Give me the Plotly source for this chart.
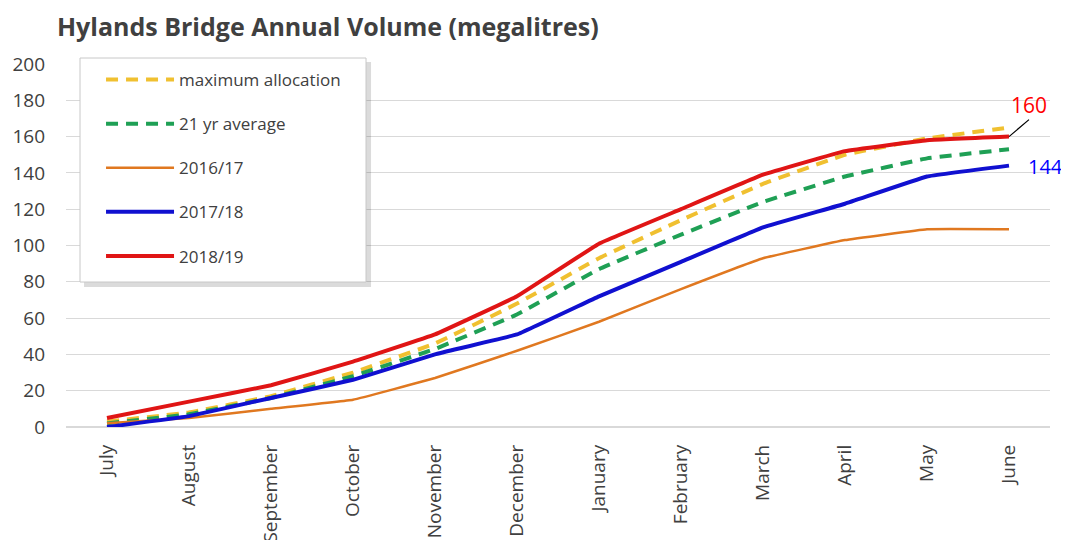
import plotly.graph_objects as go

months = ["July", "August", "September", "October", "November", "December",
          "January", "February", "March", "April", "May", "June"]
max_allocation = [3, 8, 17, 30, 46, 68, 93, 114, 134, 150, 159, 165]
avg_21yr = [2, 7, 16, 28, 43, 62, 87, 106, 124, 138, 148, 153]
y2016_17 = [2, 5, 10, 15, 27, 42, 58, 76, 93, 103, 109, 109]
y2017_18 = [0, 6, 16, 26, 40, 51, 72, 91, 110, 123, 138, 144]
y2018_19 = [5, 14, 23, 36, 51, 72, 101, 120, 139, 152, 158, 160]

series = [
    ("maximum allocation", max_allocation, "#f0c030", 4, "dash"),
    ("21 yr average", avg_21yr, "#1fa055", 4, "dash"),
    ("2016/17", y2016_17, "#e07820", 2.5, "solid"),
    ("2017/18", y2017_18, "#1010d0", 4, "solid"),
    ("2018/19", y2018_19, "#e01515", 4, "solid"),
]

fig = go.Figure()
for i, (name, vals, color, width, dash) in enumerate(series):
    fig.add_trace(go.Scatter(
        x=months, y=vals, name=name, mode="lines",
        line=dict(color=color, width=width, dash="12px,8px" if dash == "dash" else "solid",
                  shape="spline", smoothing=0.2),
        legendgroup=f"g{i}",
    ))

fig.add_annotation(x=months[-1], y=y2018_19[-1], text=str(y2018_19[-1]),
                   showarrow=True, arrowhead=0, arrowwidth=1.2, arrowcolor="black",
                   ax=20, ay=-17, xanchor="center", yanchor="bottom", borderpad=0,
                   font=dict(color="#ff0000", size=21, family="Open Sans"))
fig.add_annotation(x=months[-1], y=y2017_18[-1], text=str(y2017_18[-1]),
                   showarrow=False, xshift=36, yshift=-1,
                   font=dict(color="#0000ff", size=20, family="Open Sans"))

# legend shadow and box (drawn as shapes)
fig.add_shape(type="rect", xref="paper", yref="paper",
              x0=0.0183, x1=0.310, y0=0.3857, y1=1.0055,
              fillcolor="rgba(0,0,0,0.14)", line=dict(width=0), layer="above")
fig.add_shape(type="rect", xref="paper", yref="paper",
              x0=0.01423, x1=0.3049, y0=0.3994, y1=1.0165,
              fillcolor="white", line=dict(width=1, color="#c8c8c8"), layer="above")

fig.update_layout(
    width=1053, height=532,
    paper_bgcolor="white", plot_bgcolor="white",
    margin=dict(l=58, r=11, t=56, b=113),
    title=dict(text="<b>Hylands Bridge Annual Volume (megalitres)</b>",
               x=0.0465, xanchor="left", y=0.964, yanchor="middle",
               font=dict(family="Open Sans", size=25, color="#404040")),
    font=dict(family="Open Sans", color="#404040"),
    showlegend=True,
    legend=dict(x=0.0356, y=1.0055, xanchor="left", yanchor="top",
                bgcolor="rgba(0,0,0,0)", borderwidth=0,
                font=dict(size=17, color="#404040"),
                tracegroupgap=19, itemwidth=68,
                traceorder="grouped"),
    xaxis=dict(type="category", range=[-0.5, 11.5], tickangle=-90, showgrid=False,
               showline=False, ticks="", tickfont=dict(size=19, color="#404040"),
               ticklabelstandoff=13, automargin=False),
    yaxis=dict(range=[0, 200], dtick=20, showgrid=True, gridcolor="#d9d9d9",
               gridwidth=1, zeroline=True, zerolinecolor="#d9d9d9", showline=False,
               tickfont=dict(size=19, color="#404040"), ticks="", ticklabelstandoff=20,
               automargin=False),
)

fig.write_html("out.html")
